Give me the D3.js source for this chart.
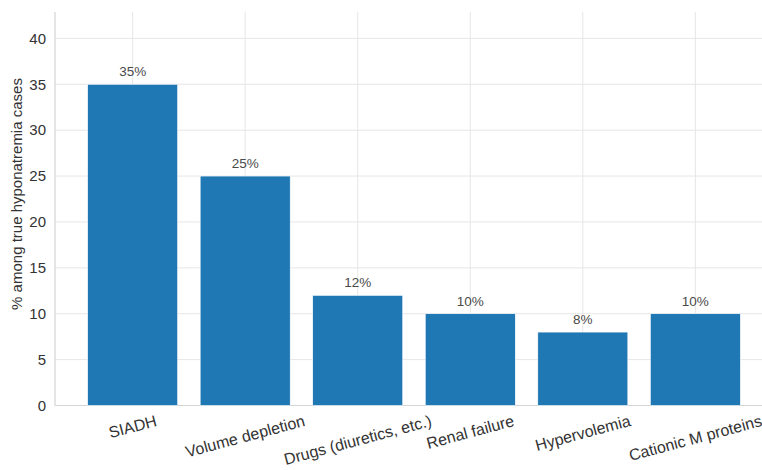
<!DOCTYPE html>
<html>
<head>
<meta charset="utf-8">
<script src="https://cdn.jsdelivr.net/npm/d3@7"></script>
<style>
  body { margin: 0; background: #fff; }
  svg { display: block; font-family: "Liberation Sans", Arial, sans-serif; }
</style>
</head>
<body>
<svg id="chart" width="762" height="470"></svg>
<script>
var categories = ["SIADH", "Volume depletion", "Drugs (diuretics, etc.)", "Renal failure", "Hypervolemia", "Cationic M proteins"];
var values = [35, 25, 12, 10, 8, 10];
var yTicks = [0, 5, 10, 15, 20, 25, 30, 35, 40];

var svg = d3.select("#chart");
var plotL = 55, plotR = 773, plotT = 12, plotB = 405.5;

// index scale like matplotlib: bars of width 0.8, 5% margins
var x = d3.scaleLinear().domain([-0.69, categories.length - 1 + 0.69]).range([plotL, plotR]);
var y = d3.scaleLinear().domain([0, 42.875]).range([plotB, plotT]);
var barW = x(0.8) - x(0);

var g = svg.append("g");

// grid
g.selectAll(".hgrid").data(yTicks).enter().append("line")
  .attr("x1", plotL).attr("x2", plotR)
  .attr("y1", d => y(d)).attr("y2", d => y(d))
  .attr("stroke", "#e6e6e6").attr("stroke-width", 1);
g.selectAll(".vgrid").data(categories).enter().append("line")
  .attr("x1", (d, i) => x(i)).attr("x2", (d, i) => x(i))
  .attr("y1", plotT).attr("y2", plotB)
  .attr("stroke", "#e6e6e6").attr("stroke-width", 1);

// spines
g.append("line").attr("x1", plotL).attr("x2", plotL).attr("y1", plotT).attr("y2", plotB)
  .attr("stroke", "#d4d4d4").attr("stroke-width", 1.2);
g.append("line").attr("x1", plotL).attr("x2", plotR).attr("y1", plotB).attr("y2", plotB)
  .attr("stroke", "#d4d4d4").attr("stroke-width", 1.2);

// bars
g.selectAll(".bar").data(values).enter().append("rect")
  .attr("x", (d, i) => x(i) - barW / 2)
  .attr("y", d => y(d))
  .attr("width", barW)
  .attr("height", d => y(0) - y(d))
  .attr("fill", "#1f77b4")
  .attr("stroke", "#ffffff").attr("stroke-width", 0.6);

// value labels
g.selectAll(".val").data(values).enter().append("text")
  .attr("x", (d, i) => x(i))
  .attr("y", d => y(d) - 8)
  .attr("text-anchor", "middle")
  .attr("font-size", 13.5)
  .attr("fill", "#4a4a4a")
  .text(d => d + "%");

// y tick labels
g.selectAll(".ytick").data(yTicks).enter().append("text")
  .attr("x", plotL - 9)
  .attr("y", d => y(d))
  .attr("dy", "0.35em")
  .attr("text-anchor", "end")
  .attr("font-size", 15)
  .attr("fill", "#333")
  .text(d => d);

// x tick labels, rotated 15 degrees, top of rotated box just below axis
var rot = 15 * Math.PI / 180, xfs = 16;
g.selectAll(".xtick").data(categories).enter().append("text")
  .attr("text-anchor", "middle")
  .attr("dy", "0.35em")
  .attr("font-size", xfs)
  .attr("fill", "#333")
  .text(d => d)
  .attr("transform", function(d, i) {
    var w = this.getComputedTextLength();
    var h = xfs * 1.0;
    var boxH = w * Math.sin(rot) + h * Math.cos(rot);
    return "translate(" + x(i) + "," + (plotB + 7 + boxH / 2) + ") rotate(-15)";
  });

// y axis title
g.append("text")
  .attr("transform", "translate(22,194) rotate(-90)")
  .attr("text-anchor", "middle")
  .attr("font-size", 15)
  .attr("fill", "#333")
  .text("% among true hyponatremia cases");
</script>
</body>
</html>
